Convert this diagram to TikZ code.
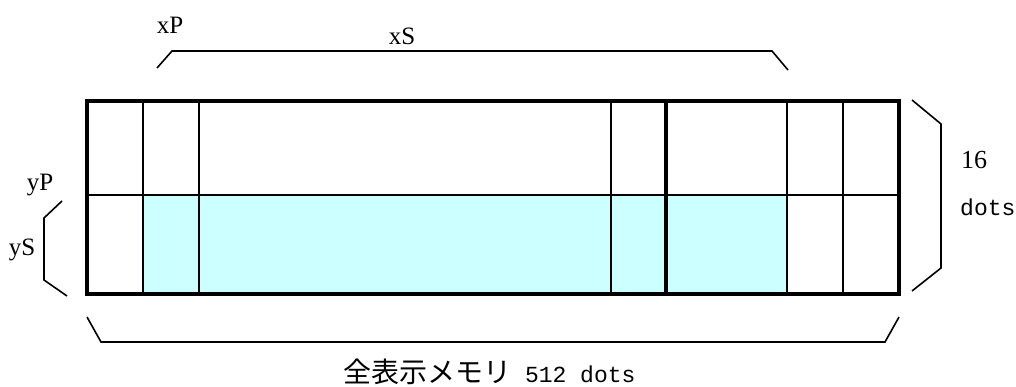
\documentclass[tikz,border=0pt]{standalone}
\usepackage{fontspec}
\setmainfont{Liberation Serif}
\newfontfamily\jpfont{Noto Sans CJK JP}
\newfontfamily\monofont{Liberation Mono}
\begin{document}
\begin{tikzpicture}[x=1pt,y=-1pt,
  thin line/.style={line width=1.6pt},
  thick line/.style={line width=4pt},
  bracket/.style={line width=1.6pt,line join=miter},
  lbl/.style={inner sep=0pt,font=\fontsize{25}{27}\selectfont},
  mlbl/.style={inner sep=0pt,font=\fontsize{23}{26}\monofont}]
\definecolor{cellcyan}{HTML}{CCFFFF}
\useasboundingbox (0,0) rectangle (1016,387);
% cyan region
\fill[cellcyan] (143,195) rectangle (787,294);
% thin grid lines
\foreach \xx in {143,199,611,787,843}
  \draw[thin line] (\xx,101) -- (\xx,294);
\draw[thin line] (87,195) -- (899,195);
% thick border and divider
\draw[thick line] (87,101) rectangle (899,294);
\draw[thick line] (666,101) -- (666,294);
% brackets
\draw[bracket] (157,68) -- (172,51) -- (772,51) -- (788,70);
\draw[bracket] (62,201) -- (44,218) -- (44,280) -- (67,296);
\draw[bracket] (87,317) -- (101,342) -- (885,342) -- (899,317);
\draw[bracket] (912,100) -- (941,124) -- (941,268) -- (912,291);
% labels
\node[lbl] (xP) at (170,25) {xP};
\node[lbl] (xS) at (402,36) {xS};
\node[lbl] (yP) at (40,185) {yP};
\node[lbl] (yS) at (22,250) {yS};
\node[lbl,anchor=west,font=\fontsize{26}{28}\selectfont] (n16) at (961,160) {16};
\node[mlbl,anchor=west] (dots) at (960,207) {dots};
\node[inner sep=0pt,anchor=west] (total) at (343,372)
  {{\fontsize{28}{30}\jpfont 全表示メモリ}{\fontsize{23}{26}\monofont\ 512 dots}};
\end{tikzpicture}
\end{document}
